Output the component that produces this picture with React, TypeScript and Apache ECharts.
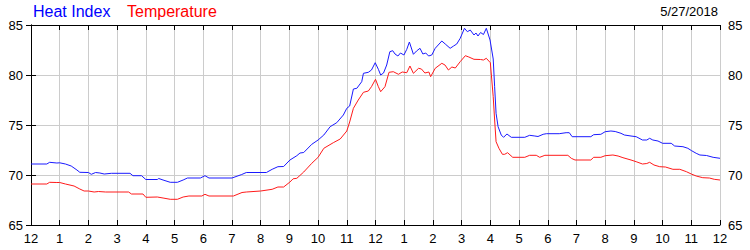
import React, { useEffect, useRef } from "react";
import * as echarts from "echarts";

const HOUR_LABELS = ["12", "1", "2", "3", "4", "5", "6", "7", "8", "9", "10", "11", "12", "1", "2", "3", "4", "5", "6", "7", "8", "9", "10", "11", "12"];
const Y_TICKS = [65, 70, 75, 80, 85];
const SERIES_NAMES = ["Heat Index", "Temperature"];
const DATE_LABEL = "5/27/2018";

// [hour since midnight, value]
const heatIndex: [number, number][] = [
  [0, 71.1], [0.55, 71.1], [0.65, 71.27], [0.9, 71.2], [1.0, 71.22], [1.2, 71.1], [1.4, 70.9], [1.6, 70.5], [1.7, 70.27],
  [2.0, 70.25], [2.1, 70.07], [2.25, 70.25], [2.4, 70.2], [2.55, 70.1], [2.8, 70.17], [3.45, 70.17], [3.55, 69.93],
  [3.85, 69.93], [4.0, 69.55], [4.4, 69.55], [4.45, 69.65], [4.6, 69.5], [4.85, 69.27], [5.1, 69.27], [5.3, 69.5],
  [5.45, 69.7], [5.9, 69.7], [6.06, 69.93], [6.2, 69.7], [7.0, 69.7], [7.34, 70.05], [7.5, 70.25], [8.2, 70.25],
  [8.4, 70.57], [8.6, 70.83], [8.8, 70.85], [9.02, 71.5], [9.26, 71.93], [9.37, 72.2], [9.5, 72.25], [9.78, 73.07],
  [10.0, 73.5], [10.2, 74.0], [10.42, 74.83], [10.65, 75.23], [10.88, 76.0], [11.0, 76.67], [11.1, 76.9], [11.23, 78.6],
  [11.35, 78.67], [11.52, 79.33], [11.58, 80.17], [11.75, 80.27], [11.86, 80.5], [11.99, 81.23], [12.1, 80.57],
  [12.18, 80.0], [12.28, 80.2], [12.39, 81.0], [12.5, 82.33], [12.6, 82.43], [12.68, 82.1], [12.78, 81.9], [12.87, 82.2],
  [12.99, 82.0], [13.09, 82.57], [13.18, 83.3], [13.32, 82.07], [13.43, 82.4], [13.55, 82.67], [13.65, 82.1],
  [13.75, 82.2], [13.85, 81.9], [13.96, 82.0], [14.08, 82.67], [14.31, 83.4], [14.43, 83.1], [14.6, 82.67],
  [14.72, 82.9], [14.83, 83.1], [14.95, 83.67], [15.1, 84.67], [15.2, 84.33], [15.3, 84.5], [15.43, 84.0], [15.5, 84.2],
  [15.57, 83.9], [15.66, 84.25], [15.76, 84.05], [15.86, 84.67], [15.99, 83.5], [16.1, 81.6], [16.15, 78.83],
  [16.2, 76.17], [16.27, 74.83], [16.38, 74.0], [16.46, 73.77], [16.58, 74.1], [16.73, 73.77], [17.2, 73.77],
  [17.37, 73.97], [17.55, 73.9], [17.66, 73.85], [17.84, 74.07], [17.95, 74.13], [18.4, 74.13], [18.64, 74.23],
  [18.75, 74.23], [18.85, 73.83], [19.5, 73.83], [19.6, 74.03], [19.85, 74.07], [20.0, 74.33], [20.2, 74.4],
  [20.35, 74.35], [20.55, 74.17], [20.67, 74.0], [20.9, 73.9], [21.08, 73.83], [21.3, 73.5], [21.45, 73.5],
  [21.55, 73.67], [21.66, 73.5], [21.84, 73.4], [22.0, 73.17], [22.3, 73.17], [22.42, 72.9], [22.71, 72.83],
  [22.88, 72.67], [23.0, 72.45], [23.17, 72.17], [23.3, 72.0], [23.53, 71.95], [23.76, 71.77], [24.0, 71.67],
];

const temperature: [number, number][] = [
  [0, 69.1], [0.55, 69.1], [0.65, 69.27], [0.9, 69.25], [1.0, 69.25], [1.2, 69.1], [1.5, 68.9], [1.7, 68.6], [1.85, 68.4],
  [2.0, 68.4], [2.2, 68.3], [2.35, 68.35], [2.6, 68.3], [3.4, 68.3], [3.5, 68.1], [3.9, 68.1], [4.0, 67.77], [4.4, 67.8],
  [4.6, 67.7], [4.85, 67.57], [5.1, 67.57], [5.3, 67.8], [5.5, 67.9], [5.95, 67.9], [6.06, 68.07], [6.2, 67.9],
  [7.05, 67.9], [7.35, 68.25], [7.5, 68.3], [8.0, 68.4], [8.4, 68.57], [8.6, 68.8], [8.8, 68.8], [9.02, 69.3],
  [9.13, 69.62], [9.26, 69.67], [9.5, 70.3], [9.78, 71.17], [10.0, 71.77], [10.2, 72.67], [10.53, 73.23], [10.77, 73.6],
  [11.0, 74.4], [11.1, 75.3], [11.23, 76.67], [11.4, 77.5], [11.58, 78.27], [11.75, 78.4], [11.86, 78.83], [12.0, 79.57],
  [12.1, 78.83], [12.18, 78.33], [12.33, 78.83], [12.47, 80.27], [12.62, 80.33], [12.8, 80.07], [12.93, 80.3],
  [13.09, 80.23], [13.2, 80.9], [13.32, 80.17], [13.5, 80.67], [13.6, 80.6], [13.72, 80.2], [13.86, 80.3],
  [13.92, 79.83], [14.08, 80.67], [14.31, 81.17], [14.42, 81.0], [14.54, 80.5], [14.66, 80.8], [14.78, 80.7],
  [14.95, 81.33], [15.13, 81.93], [15.25, 81.8], [15.43, 81.57], [15.66, 81.55], [15.76, 81.5], [15.86, 81.67],
  [16.0, 81.23], [16.1, 77.83], [16.15, 75.5], [16.2, 73.33], [16.3, 72.67], [16.42, 72.07], [16.5, 72.07],
  [16.6, 72.23], [16.78, 71.77], [17.2, 71.77], [17.37, 71.97], [17.6, 71.97], [17.72, 71.77], [17.9, 71.97],
  [18.7, 71.97], [18.82, 71.67], [18.95, 71.5], [19.5, 71.5], [19.6, 71.77], [19.85, 71.77], [20.0, 71.93],
  [20.27, 72.0], [20.45, 71.9], [20.62, 71.73], [20.9, 71.5], [21.08, 71.33], [21.3, 71.1], [21.45, 71.15],
  [21.55, 71.27], [21.7, 71.0], [21.9, 70.83], [22.1, 70.8], [22.36, 70.57], [22.6, 70.57], [22.83, 70.33],
  [23.0, 70.1], [23.17, 69.9], [23.4, 69.73], [23.63, 69.7], [23.8, 69.57], [24.0, 69.5],
];

const FONT = "'Liberation Sans', Arial, sans-serif";

export default function App() {
  const ref = useRef<HTMLDivElement>(null);

  useEffect(() => {
    if (!ref.current) return;
    const chart = echarts.init(ref.current, undefined, { renderer: "svg" });
    const labelStyle = { fontFamily: FONT, fontSize: 13, color: "#000" };
    const tickStyle = { show: true, inside: true, length: 5, lineStyle: { color: "#000", width: 1 } };
    const axisLine = { show: true, lineStyle: { color: "#000", width: 1 } };
    const split = { show: true, lineStyle: { color: "#cccccc", width: 1 } };

    chart.setOption({
      animation: false,
      backgroundColor: "#fff",
      grid: { left: 31, right: 30, top: 25, bottom: 25, containLabel: false },
      graphic: [
        { type: "text", left: 33, top: 3, style: { text: SERIES_NAMES[0], fill: "#0000ff", font: `16px ${FONT}` } },
        { type: "text", left: 127, top: 3, style: { text: SERIES_NAMES[1], fill: "#ff0000", font: `16px ${FONT}` } },
        { type: "text", right: 32, top: 5, style: { text: DATE_LABEL, fill: "#000", font: `13px ${FONT}` } },
      ],
      xAxis: [
        {
          type: "value", position: "bottom", min: 0, max: 24, interval: 1,
          axisLine, axisTick: tickStyle, splitLine: split,
          axisLabel: { ...labelStyle, margin: 7, formatter: (v: number) => HOUR_LABELS[Math.round(v)] ?? "" },
        },
        {
          type: "value", position: "top", min: 0, max: 24, interval: 1,
          axisLine, axisTick: tickStyle, splitLine: { show: false }, axisLabel: { show: false },
        },
      ],
      yAxis: [
        {
          type: "value", position: "left", min: Y_TICKS[0], max: Y_TICKS[Y_TICKS.length - 1], interval: 5,
          axisLine, axisTick: tickStyle, splitLine: split,
          axisLabel: { ...labelStyle, margin: 8 },
        },
        {
          type: "value", position: "right", min: Y_TICKS[0], max: Y_TICKS[Y_TICKS.length - 1], interval: 5,
          axisLine, axisTick: tickStyle, splitLine: { show: false },
          axisLabel: { ...labelStyle, margin: 8 },
        },
      ],
      series: [
        {
          name: SERIES_NAMES[0], type: "line", data: heatIndex, showSymbol: false, symbol: "none",
          lineStyle: { color: "#1a1aff", width: 1 }, xAxisIndex: 0, yAxisIndex: 0, z: 3,
        },
        {
          name: SERIES_NAMES[1], type: "line", data: temperature, showSymbol: false, symbol: "none",
          lineStyle: { color: "#ff1a1a", width: 1 }, xAxisIndex: 0, yAxisIndex: 0, z: 2,
        },
      ],
    });
    return () => chart.dispose();
  }, []);

  return (
    <div style={{ position: "fixed", left: 0, top: 0, width: 750, height: 250, background: "#fff" }}>
      <div ref={ref} style={{ width: 750, height: 250 }} />
    </div>
  );
}
